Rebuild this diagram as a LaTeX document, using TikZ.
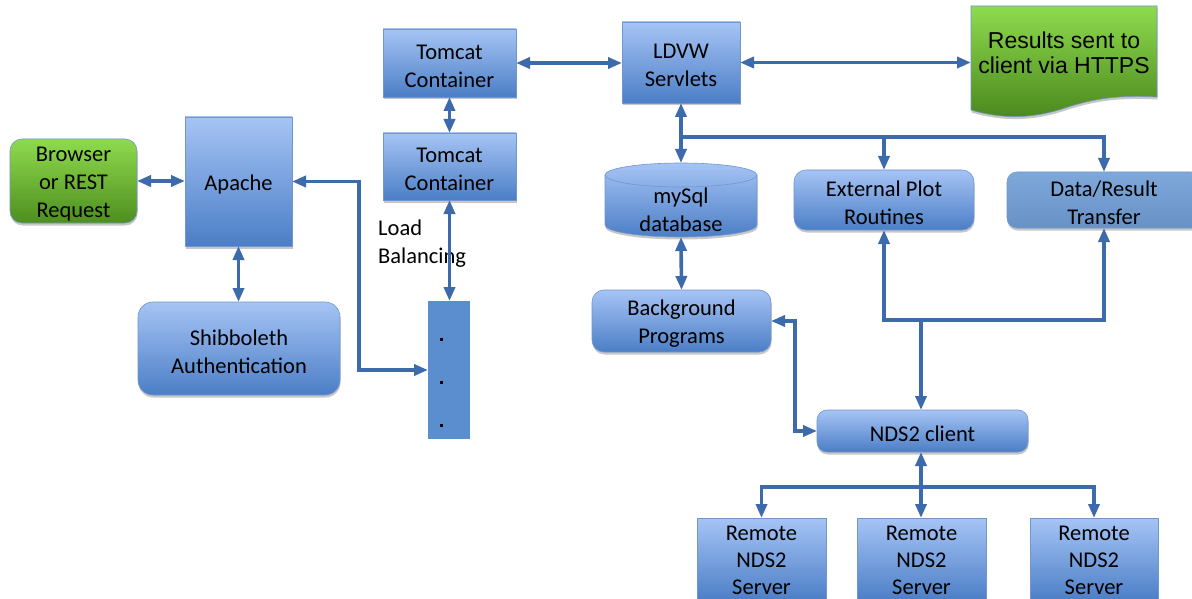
\documentclass[tikz,border=0pt]{standalone}
\usepackage{fontspec}
\setmainfont{Carlito}
\newfontfamily\arialf{Liberation Sans}
\usetikzlibrary{arrows.meta,shadows}
\definecolor{blueTop}{HTML}{A6C4F5}
\definecolor{blueBot}{HTML}{4B7EC6}
\definecolor{edgeC}{HTML}{7096CC}
\definecolor{lineC}{HTML}{3D6AAA}
\definecolor{greenTop}{HTML}{8EDB4E}
\definecolor{greenBot}{HTML}{4E8E1E}
\definecolor{lbC}{HTML}{5A8ECF}
\definecolor{dataTop}{HTML}{7EA8DA}
\definecolor{dataBot}{HTML}{6892C6}
\begin{document}
\begin{tikzpicture}[x=1pt,y=-1pt,
 lbl/.style={font=\fontsize{22.5}{28}\selectfont, text=black, align=center},
 box/.style={rectangle, draw=edgeC, line width=0.6pt, top color=blueTop, bottom color=blueBot,
   inner sep=0pt, outer sep=0pt,
   drop shadow={shadow xshift=0.5pt, shadow yshift=-2.5pt, fill=black, opacity=0.22}},
 rbox/.style={box, rounded corners=12pt},
 txt/.style={label={[lbl, yshift=-3pt]center:{#1}}},
 rtxt/.style={label={[lbl, font=\fontsize{22.5}{27}\selectfont, yshift=-0.5pt]center:{#1}}},
 conn/.style={draw=lineC, line width=3.6pt},
 arr/.style={conn, -{Triangle[length=14pt,width=11pt]}},
 darr/.style={conn, {Triangle[length=14pt,width=11pt]}-{Triangle[length=14pt,width=11pt]}},
]
\useasboundingbox[fill=white] (0,0) rectangle (1192,599);

% nodes
\node[rbox, top color=greenTop, bottom color=greenBot, minimum width=127pt, minimum height=84pt,
  txt={Browser\\or REST\\Request}] (browser) at (73.5,181) {};
\node[box, minimum width=107pt, minimum height=129pt, txt={Apache}] (apache) at (238.5,181.5) {};
\node[rbox, rounded corners=15pt, minimum width=202pt, minimum height=93pt,
  txt={Shibboleth\\Authentication}] (shib) at (239,348.5) {};
\node[box, minimum width=133pt, minimum height=68pt, txt={Tomcat\\Container}] (tc1) at (449.5,63) {};
\node[box, minimum width=133pt, minimum height=67pt, txt={Tomcat\\Container}] (tc2) at (449.5,166.5) {};
\node[rectangle, fill=lbC, minimum width=42pt, minimum height=138pt, inner sep=0pt, outer sep=0pt] (lb) at (449,370) {};
\foreach \yy in {339,382,425} \fill[black] (439.5,\yy-1.5) rectangle ++(3,3);
\node[lbl, align=left, anchor=north west, inner sep=0pt] (lbtext) at (378,220) {Load\\Balancing};
\node[box, minimum width=118pt, minimum height=81pt, txt={LDVW\\Servlets}] (ldvw) at (681,62.5) {};

% results document shape
\path[draw=edgeC, line width=0.6pt, top color=greenTop, bottom color=greenBot!95!black,
  drop shadow={shadow xshift=0.5pt, shadow yshift=-2.5pt, fill=black, opacity=0.22}]
  (971,6) -- (1157,6) -- (1157,97)
  .. controls (1120,95) and (1095,98) .. (1065,108)
  .. controls (1035,118) and (1005,120) .. (971,110) -- cycle;
\node[minimum width=186pt, minimum height=100pt, inner sep=0pt, outer sep=0pt] (results) at (1064,62) {};
\node[font=\arialf\fontsize{23}{25}\selectfont, align=center, text=black] (restxt) at (1064,53) {Results sent to\\client via HTTPS};

% mySql cylinder
\path[draw=edgeC, line width=0.6pt, top color=blueTop, bottom color=blueBot,
  drop shadow={shadow xshift=0.5pt, shadow yshift=-2.5pt, fill=black, opacity=0.22}]
  (605,175) -- (605,225) arc[start angle=180, end angle=360, x radius=76pt, y radius=12pt]
  -- (757,175) arc[start angle=0, end angle=180, x radius=76pt, y radius=12pt] -- cycle;
\draw[edgeC, line width=0.6pt] (605,175) arc[start angle=180, end angle=360, x radius=76pt, y radius=12pt];
\node[minimum width=152pt, minimum height=74pt, inner sep=0pt, outer sep=0pt] (mysql) at (681,200) {};
\node[lbl] (mysqltxt) at (681,210) {mySql\\database};

\node[rbox, minimum width=180pt, minimum height=60pt, txt={External Plot\\Routines}] (ext) at (884,200) {};
\node[rbox, rounded corners=10pt, top color=dataTop, bottom color=dataBot, minimum width=194pt, minimum height=56pt,
  txt={Data/Result\\Transfer}] (data) at (1104,200) {};
\node[rbox, minimum width=179pt, minimum height=62pt, txt={Background\\Programs}] (bg) at (681.5,321) {};
\node[rbox, rounded corners=10pt, minimum width=211pt, minimum height=42pt, txt={NDS2 client}] (nds) at (922.5,431) {};
\node[box, minimum width=129pt, minimum height=83pt, rtxt={Remote\\NDS2\\Server}] (r1) at (761.5,559.5) {};
\node[box, minimum width=129pt, minimum height=83pt, rtxt={Remote\\NDS2\\Server}] (r2) at (921.5,559.5) {};
\node[box, minimum width=128pt, minimum height=83pt, rtxt={Remote\\NDS2\\Server}] (r3) at (1094,559.5) {};

% connectors
\draw[darr] (browser.east) -- (browser.east -| apache.west);
\draw[darr] (apache.south) -- (apache.south |- shib.north);
\coordinate (lbturn) at (359,181.5);
\draw[darr] (apache.east) -- (lbturn) |- (lb.west);
\draw[darr] (tc1.south) -- (tc2.north);
\draw[darr] (tc2.south) -- (tc2.south |- lb.north);
\draw[darr] (tc1.east) -- (tc1.east -| ldvw.west);
\draw[darr] (ldvw.east) -- (ldvw.east -| results.west);
\draw[darr] (ldvw.south) -- (mysql.north);
\coordinate (br) at (681,137);
\draw[arr] (br) -| (ext.north);
\draw[arr] (br) -| (data.north);
\draw[darr] (mysql.south) -- (bg.north);
\coordinate (j) at (921,320);
\draw[arr] (j) -- (j |- nds.north);
\draw[arr] (j) -| (ext.south);
\draw[arr] (j) -| (data.south);
\coordinate (bgturn) at (795,321);
\draw[darr] (bg.east) -- (bgturn) |- (nds.west);
\coordinate (k) at (921,487);
\draw[arr] (k) -- (k |- nds.south);
\draw[arr] (k) -- (k |- r2.north);
\draw[arr] (k) -| (r1.north);
\draw[arr] (k) -| (r3.north);
\end{tikzpicture}
\end{document}
